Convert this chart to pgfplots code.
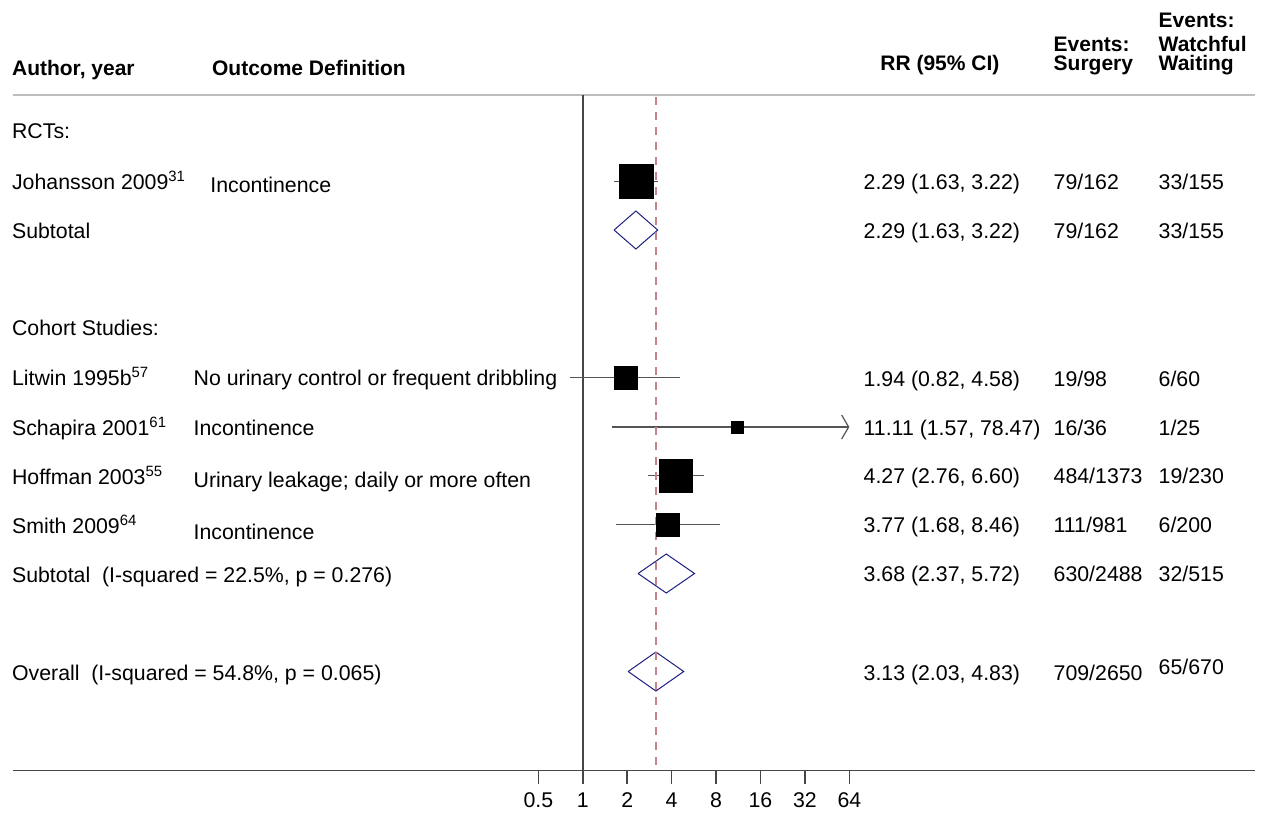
\documentclass[border=0pt]{standalone}
\usepackage{fontspec}
\setmainfont{Liberation Sans}
\usepackage{pgfplots}
\pgfplotsset{compat=1.18}
\usetikzlibrary{arrows.meta}
\definecolor{diam}{RGB}{30,30,128}
\definecolor{refred}{RGB}{196,130,138}
\definecolor{ci}{RGB}{85,85,85}
\definecolor{axl}{RGB}{70,70,70}
\definecolor{hdr}{RGB}{190,190,190}
\begin{document}
\fontsize{10.65}{12.6}\selectfont
\begin{tikzpicture}
\begin{scope}[x=0.5pt,y=-0.5pt,every node/.style={inner sep=0pt,anchor=base west}]
\useasboundingbox (0,0) rectangle (1263,816);
% headers
\node[font=\fontsize{10.5}{12.6}\selectfont\bfseries] at (11.7,75.3) {Author, year};
\node[font=\fontsize{10.5}{12.6}\selectfont\bfseries] at (211.7,75.3) {Outcome Definition};
\node[font=\fontsize{10.5}{12.6}\selectfont\bfseries] at (880,70.7) {RR (95\% CI)};
\node[font=\fontsize{10.5}{12.6}\selectfont\bfseries] at (1053.3,51.7) {Events:};
\node[font=\fontsize{10.5}{12.6}\selectfont\bfseries] at (1053.3,70.7) {Surgery};
\node[font=\fontsize{10.5}{12.6}\selectfont\bfseries] at (1158.3,27.3) {Events:};
\node[font=\fontsize{10.5}{12.6}\selectfont\bfseries] at (1158.3,51.7) {Watchful};
\node[font=\fontsize{10.5}{12.6}\selectfont\bfseries] at (1158.3,70.7) {Waiting};
% RCTs
\node at (11.7,138) {RCTs:};
\node at (11.7,189) {Johansson 2009\textsuperscript{31}};
\node at (210,192) {Incontinence};
\node at (863.3,189) {2.29 (1.63, 3.22)};
\node at (1053.3,189) {79/162};
\node at (1158.3,189) {33/155};
\node at (11.7,238) {Subtotal};
\node at (863.3,238) {2.29 (1.63, 3.22)};
\node at (1053.3,238) {79/162};
\node at (1158.3,238) {33/155};
% Cohort
\node at (11.7,335.5) {Cohort Studies:};
\node at (11.7,385) {Litwin 1995b\textsuperscript{57}};
\node at (193.3,385) {No urinary control or frequent dribbling};
\node at (863.3,386) {1.94 (0.82, 4.58)};
\node at (1053.3,386) {19/98};
\node at (1158.3,386) {6/60};
\node at (11.7,435) {Schapira 2001\textsuperscript{61}};
\node at (193.3,435) {Incontinence};
\node at (863.3,435) {11.11 (1.57, 78.47)};
\node at (1053.3,435) {16/36};
\node at (1158.3,435) {1/25};
\node at (11.7,484) {Hoffman 2003\textsuperscript{55}};
\node at (193.3,487) {Urinary leakage; daily or more often};
\node at (863.3,483.3) {4.27 (2.76, 6.60)};
\node at (1053.3,483.3) {484/1373};
\node at (1158.3,483.3) {19/230};
\node at (11.7,533.3) {Smith 2009\textsuperscript{64}};
\node at (193.3,539.3) {Incontinence};
\node at (863.3,532.7) {3.77 (1.68, 8.46)};
\node at (1053.3,532.7) {111/981};
\node at (1158.3,532.7) {6/200};
\node at (11.7,582) {Subtotal\ \ (I-squared = 22.5\%, p = 0.276)};
\node at (863.3,581.7) {3.68 (2.37, 5.72)};
\node at (1053.3,581.7) {630/2488};
\node at (1158.3,581.7) {32/515};
% Overall
\node at (11.7,680) {Overall\ \ (I-squared = 54.8\%, p = 0.065)};
\node at (863.3,680) {3.13 (2.03, 4.83)};
\node at (1053.3,680) {709/2650};
\node at (1158.3,674) {65/670};
\end{scope}
\begin{axis}[
  at={(6.35pt,-385.35pt)}, anchor=south west,
  scale only axis, width=621.15pt, height=337.85pt,
  xmode=log, log basis x=2,
  xmin=1.3733e-4, xmax=35858,
  ymin=-770.7, ymax=-95,
  hide y axis,
  axis x line*=bottom,
  x axis line style={color=axl, line width=0.75pt},
  xtick={0.5,1,2,4,8,16,32,64},
  xticklabels={0.5,1,2,4,8,16,32,64},
  tick align=outside, major tick length=6.5pt,
  tick style={color=axl, line width=0.75pt},
  xticklabel style={font=\fontsize{10.65}{12.6}\selectfont, anchor=north, inner sep=0pt, yshift=-4.5pt},
  clip=false,
]
\draw[hdr, line width=0.6pt] (rel axis cs:0,1) -- (rel axis cs:1,1);
% null line
\addplot[axl, line width=0.8pt] coordinates {(1,-95) (1,-770.7)};
% CI lines
\addplot[ci, line width=0.6pt] coordinates {(1.63,-181.5) (3.22,-181.5)};
\addplot[ci, line width=0.6pt] coordinates {(0.82,-377.5) (4.58,-377.5)};
\addplot[ci, line width=0.6pt, -{Straight Barb[length=3.5pt,width=12pt]}] coordinates {(1.57,-427) (64,-427)};
\addplot[ci, line width=0.6pt] coordinates {(2.76,-475.5) (6.60,-475.5)};
\addplot[ci, line width=0.6pt] coordinates {(1.68,-524.7) (8.46,-524.7)};
% boxes
\addplot[only marks, mark=square*, mark size=8.5pt, mark options={fill=black, draw=black, line width=0.2pt}] coordinates {(2.29,-181.5)};
\addplot[only marks, mark=square*, mark size=5.75pt, mark options={fill=black, draw=black, line width=0.2pt}] coordinates {(1.94,-377.5)};
\addplot[only marks, mark=square*, mark size=3pt, mark options={fill=black, draw=black, line width=0.2pt}] coordinates {(11.11,-427)};
\addplot[only marks, mark=square*, mark size=8.1pt, mark options={fill=black, draw=black, line width=0.2pt}] coordinates {(4.27,-475.5)};
\addplot[only marks, mark=square*, mark size=5.9pt, mark options={fill=black, draw=black, line width=0.2pt}] coordinates {(3.77,-524.7)};
% diamonds
\addplot[diam, line width=0.5pt] coordinates {(1.63,-230) (2.29,-211) (3.22,-230) (2.29,-249) (1.63,-230)};
\addplot[diam, line width=0.5pt] coordinates {(2.37,-573.5) (3.68,-554) (5.72,-573.5) (3.68,-593) (2.37,-573.5)};
\addplot[diam, line width=0.5pt] coordinates {(2.03,-671.5) (3.13,-652) (4.83,-671.5) (3.13,-691) (2.03,-671.5)};
% overall estimate line
\addplot[refred, line width=0.8pt, dash pattern=on 4pt off 3.5pt] coordinates {(3.13,-97) (3.13,-770.7)};
\end{axis}
\end{tikzpicture}
\end{document}
